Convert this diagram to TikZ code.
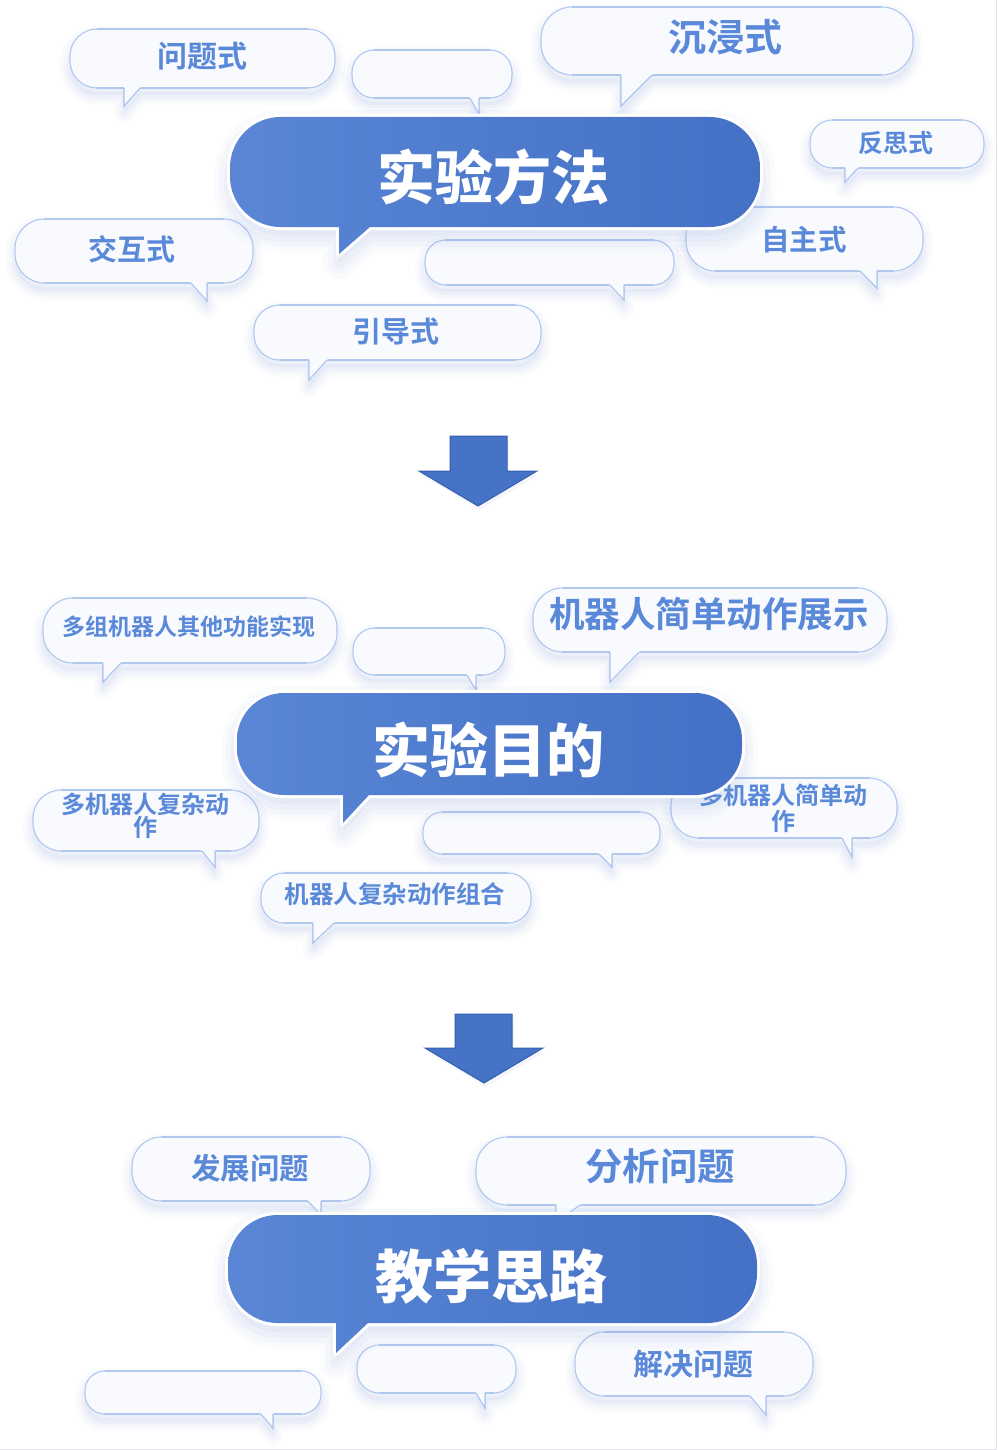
\documentclass[tikz,border=0pt]{standalone}
\usepackage{fontspec}
\newfontfamily\cjk{Noto Sans CJK SC}[BoldFont={Noto Sans CJK SC Bold}]
\newfontfamily\cjkblack{Noto Sans CJK SC Black}
\definecolor{bubfill}{HTML}{F8FAFE}
\definecolor{bubline}{HTML}{B0C7EE}
\definecolor{bubl}{HTML}{B0C7EE}
\definecolor{bubd}{HTML}{4D7DD6}
\definecolor{bubt}{HTML}{86A7E4}
\definecolor{txtc}{HTML}{5B89D9}
\definecolor{shc}{HTML}{7393DA}
\definecolor{mainl}{HTML}{5A86D5}
\definecolor{mainr}{HTML}{4470C6}
\definecolor{arrowfill}{HTML}{4673C6}
\definecolor{arrowline}{HTML}{3360B0}
\definecolor{framec}{HTML}{E2E4E8}
\tikzset{
  lbl/.style={text=txtc, inner sep=0pt, align=center, font=\cjk\bfseries\fontsize{#1}{#1}\selectfont},
  ttl/.style={inner sep=0pt, text=white, font=\cjkblack\fontsize{58}{58}\selectfont},
  bubedge/.style={draw=bubline, line width=1.1pt},
  arrowshape/.style={fill=arrowfill, draw=arrowline, line width=1pt, line join=miter},
}
% path of a speech bubble: x1 y1 x2 y2, tail base xa xb, tail tip xt yt
\newcommand\bubpath[8]{%
  \pgfmathsetmacro\bR{0.46*(#4-#2)}%
  \pgfmathsetmacro\bC{0.4477*\bR}%
  \edef\bubp{({#1+\bR},#2) -- ({#3-\bR},#2) .. controls ({#3-\bC},#2) and (#3,{#2+\bC}) .. (#3,{#2+\bR}) -- (#3,{#4-\bR}) .. controls (#3,{#4-\bC}) and ({#3-\bC},#4) .. ({#3-\bR},#4) -- (#6,#4) -- (#7,#8) -- (#5,#4) -- ({#1+\bR},#4) .. controls ({#1+\bC},#4) and (#1,{#4-\bC}) .. (#1,{#4-\bR}) -- (#1,{#2+\bR}) .. controls (#1,{#2+\bC}) and ({#1+\bC},#2) .. ({#1+\bR},#2) -- cycle}%
}
\newcommand\smallbub[8]{%
  \bubpath{#1}{#2}{#3}{#4}{#5}{#6}{#7}{#8}%
  \foreach \w/\o in {20/0.03,13/0.04,6/0.05}{\draw[shc,opacity=\o,line width=\w,line join=round,shift={(0,7)}] \bubp;}%
  \fill[shc,opacity=0.06,shift={(0,7)}] \bubp;%
  \fill[bubfill] \bubp;%
  \draw[bubedge] \bubp;%
  \shade[left color=bubl,middle color=bubd,right color=bubl] ({#1+\bR},{#4-0.8}) rectangle ({#3-\bR},{#4+0.8});%
  \shade[left color=bubl,middle color=bubt,right color=bubl] ({#1+\bR},{#2-0.7}) rectangle ({#3-\bR},{#2+0.7});%
  \fill[bubfill] ({#5+(#5-#7)*3/(#8-#4)},{#4-3}) -- (#7,#8) -- ({#6+(#6-#7)*3/(#8-#4)},{#4-3}) -- cycle;%
  \draw[bubedge,line join=miter] (#6,#4) -- (#7,#8) -- (#5,#4);%
}
\newcommand\mainbub[8]{%
  \bubpath{#1}{#2}{#3}{#4}{#5}{#6}{#7}{#8}%
  \foreach \w/\o in {32/0.03,22/0.04,12/0.05}{\draw[shc,opacity=\o,line width=\w,line join=round,shift={(0,9)}] \bubp;}%
  \fill[shc,opacity=0.06,shift={(0,9)}] \bubp;%
  \draw[white,line width=6,line join=round] \bubp;%
  \shade[left color=mainl,right color=mainr] \bubp;%
}
\begin{document}
\begin{tikzpicture}[x=1pt,y=-1pt]
\useasboundingbox (0,0) rectangle (997,1450);
\fill[white] (0,0) rectangle (997,1450);
\draw[framec,line width=1.2pt] (996.4,0) -- (996.4,1450);
\draw[framec,line width=1.2pt] (0,1449.4) -- (997,1449.4);

% ---------- section 1 : small bubbles
\smallbub{70}{29}{335}{88}{124}{140}{124}{106}
\node[lbl=30] (wenti) at (202,56) {问题式};
\smallbub{352}{50}{512}{98}{470}{479}{479}{114}
\smallbub{541}{7}{913}{75}{621}{652}{621}{106}
\node[lbl=38] (chenjin) at (725,37) {沉浸式};
\smallbub{810}{120}{984}{168}{845}{858}{845}{182}
\node[lbl=25] (fansi) at (896,143) {反思式};
\smallbub{15}{219}{253}{283}{191}{207}{207}{301}
\node[lbl=29] (jiaohu) at (132,249) {交互式};
\smallbub{425}{240}{674}{285}{610}{624}{624}{300}
\smallbub{686}{207}{923}{271}{860}{877}{877}{288}
\node[lbl=28.5] (zizhu) at (804,240) {自主式};
\smallbub{254}{305}{541}{360}{309}{327}{309}{380}
\node[lbl=29] (yindao) at (396,331) {引导式};

% ---------- section 2 : small bubbles
\smallbub{43}{598}{337}{663}{103}{121}{103}{682}
\node[lbl=23] (duozu) at (189,627) {多组机器人其他功能实现};
\smallbub{353}{628}{505}{675}{467}{476}{476}{690}
\smallbub{533}{588}{887}{652}{610}{639}{610}{682}
\node[lbl=35.5] (zhanshi) at (709,614) {机器人简单动作展示};
\smallbub{33}{790}{259}{851}{202}{215}{215}{867}
\node[lbl=24,font=\cjk\bfseries\fontsize{24}{23}\selectfont] (fuza) at (145,816) {多机器人复杂动\\作};
\smallbub{423}{812}{660}{854}{599}{612}{612}{867}
\smallbub{671}{778}{897}{838}{842}{852}{852}{857}
\node[lbl=24,font=\cjk\bfseries\fontsize{24}{26}\selectfont] (jiandan) at (783,808) {多机器人简单动\\作};
\smallbub{261}{873}{531}{923}{313}{334}{313}{943}
\node[lbl=24.5] (zuhe) at (395,894) {机器人复杂动作组合};

% ---------- section 3 : small bubbles
\smallbub{132}{1137}{370}{1201}{308}{321}{321}{1215}
\node[lbl=29.5] (fazhan) at (250,1168) {发展问题};
\smallbub{476}{1137}{846}{1205}{556}{580}{556}{1222}
\node[lbl=37.5] (fenxi) at (660,1166) {分析问题};
\smallbub{85}{1371}{321}{1414}{261}{273}{273}{1428}
\smallbub{357}{1345}{516}{1393}{476}{485}{485}{1408}
\smallbub{575}{1332}{813}{1396}{750}{766}{766}{1415}
\node[lbl=30] (jiejue) at (693,1364) {解决问题};

% ---------- arrows
\fill[shc,opacity=0.08] (452,440) -- (509,440) -- (509,475) -- (539,475) -- (480,510) -- (421,475) -- (452,475) -- cycle;
\draw[arrowshape] (450,436) -- (507,436) -- (507,471) -- (537,471) -- (478,506) -- (419,471) -- (450,471) -- cycle;
\fill[shc,opacity=0.08] (457,1018) -- (514,1018) -- (514,1052) -- (545,1052) -- (486,1087) -- (427,1052) -- (457,1052) -- cycle;
\draw[arrowshape] (455,1014) -- (512,1014) -- (512,1048) -- (543,1048) -- (484,1083) -- (425,1048) -- (455,1048) -- cycle;

% ---------- main bubbles
\mainbub{230}{117}{760}{227}{339}{370}{339}{254}
\node[ttl] (m1) at (493,177) {实验方法};
\mainbub{237}{693}{742}{795}{343}{369}{343}{823}
\node[ttl] (m2) at (488,750) {实验目的};
\mainbub{228}{1215}{757}{1323}{336}{368}{336}{1353}
\node[ttl] (m3) at (491,1276) {教学思路};
\end{tikzpicture}
\end{document}
